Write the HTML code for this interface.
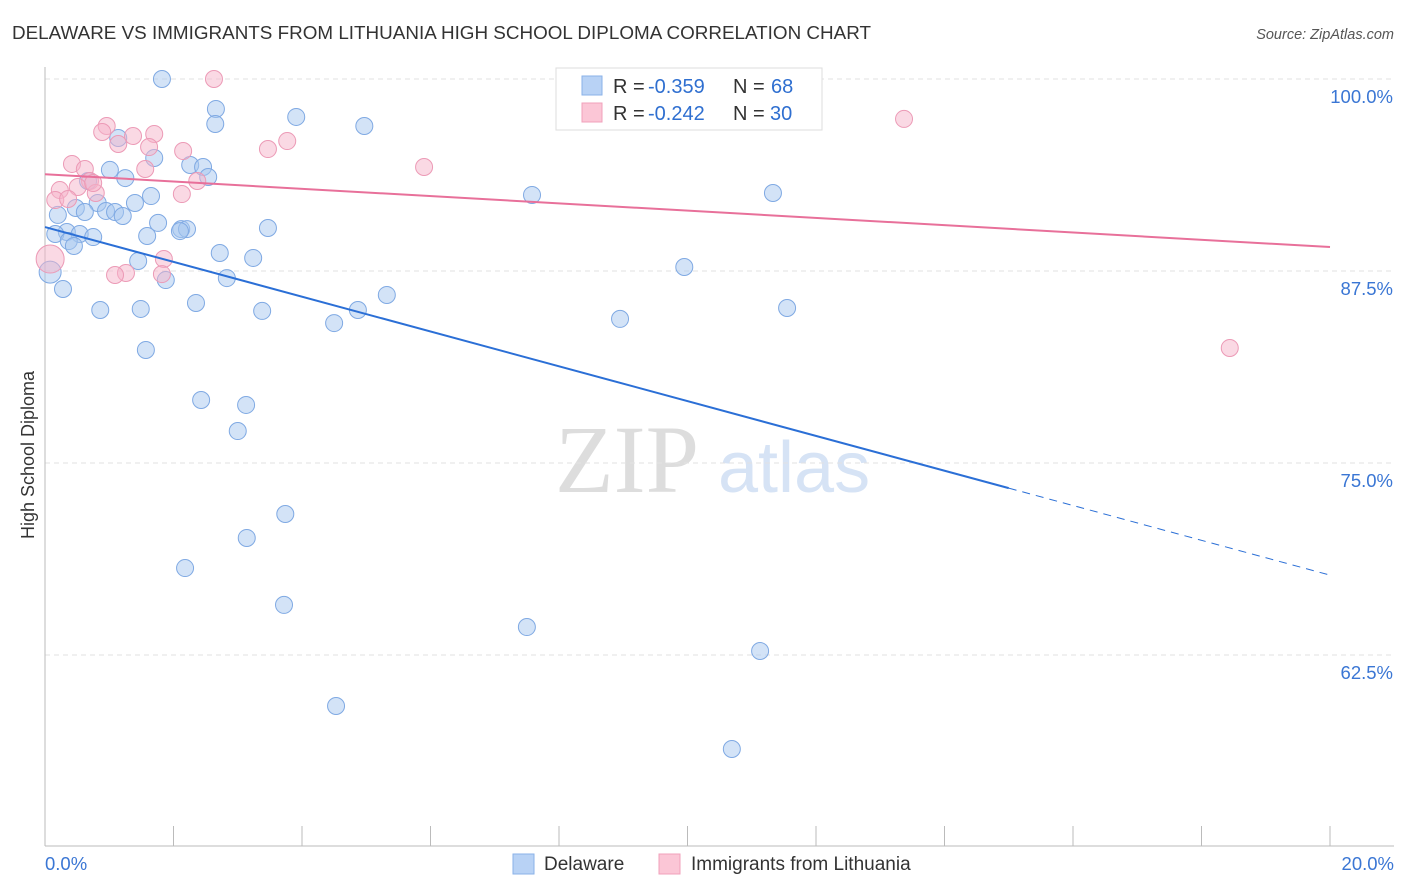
<!DOCTYPE html>
<html><head><meta charset="utf-8"><style>
body{margin:0;background:#fff;font-family:"Liberation Sans",sans-serif}
svg{display:block}
</style></head><body>
<svg id="chart" width="1406" height="892">
<text x="12" y="39" font-size="18" fill="#333" textLength="859" lengthAdjust="spacingAndGlyphs">DELAWARE VS IMMIGRANTS FROM LITHUANIA HIGH SCHOOL DIPLOMA CORRELATION CHART</text>
<text x="1394" y="39" font-size="14.5" fill="#555" font-style="italic" text-anchor="end">Source: ZipAtlas.com</text>
<text transform="translate(34,455) rotate(-90)" font-size="18" fill="#333" text-anchor="middle">High School Diploma</text>
<text x="555" y="492" font-size="96" fill="#ddd" font-family="Liberation Serif,serif">ZIP</text>
<text x="718" y="492" font-size="72" fill="#d6e3f5">atlas</text>
<g id="grid"></g><g id="pts"></g><g id="lines"></g>
<g>
<rect x="556" y="68" width="266" height="62" fill="#fff" stroke="#ddd"/>
<rect x="582" y="76" width="20" height="19" fill="#b8d2f5" stroke="#8ab2e8"/>
<rect x="582" y="103" width="20" height="19" fill="#fbc6d6" stroke="#f0a0bb"/>
<text x="613" y="93" font-size="20" fill="#333">R =</text>
<text x="648" y="93" font-size="20" fill="#2f6fd0">-0.359</text>
<text x="733" y="93" font-size="20" fill="#333">N =</text>
<text x="771" y="93" font-size="20" fill="#2f6fd0">68</text>
<text x="613" y="120" font-size="20" fill="#333">R =</text>
<text x="648" y="120" font-size="20" fill="#2f6fd0">-0.242</text>
<text x="733" y="120" font-size="20" fill="#333">N =</text>
<text x="770" y="120" font-size="20" fill="#2f6fd0">30</text>
</g>
<g>
<rect x="513" y="854" width="21" height="20" fill="#b8d2f5" stroke="#8ab2e8"/>
<text x="544" y="870" font-size="19" fill="#333">Delaware</text>
<rect x="659" y="854" width="21" height="20" fill="#fbc6d6" stroke="#f0a0bb"/>
<text x="691" y="870" font-size="19" fill="#333">Immigrants from Lithuania</text>
</g>
</svg>
<script>
const yTicks=[100,87.5,75,62.5];
const yTickLabels=["100.0%","87.5%","75.0%","62.5%"];
const xTickLabels=["0.0%","20.0%"];
const blueX=[1.82,2.66,3.91,4.97,2.65,1.14,1.70,2.26,2.46,1.01,2.54,1.25,0.67,1.65,7.58,11.33,0.82,1.40,0.48,0.62,0.95,1.09,1.21,0.20,1.76,3.47,2.12,2.21,2.10,0.34,0.16,0.54,0.75,1.59,0.37,0.45,2.72,3.24,1.45,9.95,1.88,2.83,0.08,0.28,5.32,2.35,0.86,1.49,3.38,4.87,11.55,4.50,8.95,1.57,2.43,3.13,3.00,3.74,3.14,2.18,3.72,7.50,11.13,4.53,10.69,9.76];
const blueY=[100,98.05,97.53,96.94,97.07,96.16,94.86,94.40,94.27,94.08,93.62,93.55,93.36,92.38,92.45,92.58,91.93,91.93,91.60,91.34,91.41,91.34,91.08,91.15,90.63,90.30,90.23,90.23,90.10,90.04,89.91,89.91,89.71,89.78,89.45,89.13,88.67,88.35,88.15,87.76,86.91,87.04,87.43,86.33,85.94,85.42,84.96,85.03,84.90,84.96,85.09,84.11,84.38,82.36,79.10,78.78,77.08,71.68,70.12,68.16,65.76,64.32,62.76,59.18,56.38,100];
const pinkX=[2.63,13.37,0.96,0.89,1.70,1.37,1.14,1.62,2.15,3.47,3.77,0.42,0.62,1.56,5.90,0.70,0.51,2.37,0.23,0.79,2.13,0.16,0.36,1.85,1.26,1.09,1.82,18.44,0.08,0.75];
const pinkY=[100,97.40,96.94,96.55,96.42,96.29,95.77,95.57,95.31,95.44,95.96,94.47,94.14,94.14,94.27,93.36,92.97,93.36,92.77,92.58,92.51,92.12,92.19,88.28,87.37,87.24,87.30,82.49,88.28,93.23];
const blueLine=[90.36,67.7], pinkLine=[93.8,89.06];
const X=v=>45+v*64.25, Y=v=>79+(100-v)*15.36;
const NS="http://www.w3.org/2000/svg";
function mk(t,a,p){const e=document.createElementNS(NS,t);for(const k in a)e.setAttribute(k,a[k]);p.appendChild(e);return e;}
const g=document.getElementById('grid');
yTicks.forEach((v,i)=>{
 const l=mk('line',{x1:45,x2:1394,y1:Y(v),y2:Y(v),stroke:'#e2e2e2','stroke-dasharray':'5,4'},g);
 
 
 const t=mk('text',{x:1393,y:Y(v)+24,'font-size':18.5,fill:'#3a76d4','text-anchor':'end'},g);
 t.textContent=yTickLabels[i];
 
 
});
mk('line',{x1:45,x2:45,y1:67,y2:846,stroke:'#bbb'},g);
mk('line',{x1:45,x2:1394,y1:846,y2:846,stroke:'#bbb'},g);
for(let i=0;i<=10;i++){const x=X(i*2);mk('line',{x1:x,x2:x,y1:826,y2:846,stroke:'#bbb'},g);}
[[0,'start'],[20,'end']].forEach((d,i)=>{
 const t=mk('text',{x:i?1394:45,y:870,'font-size':18.5,fill:'#3a76d4','text-anchor':d[1]},g);
 t.textContent=xTickLabels[i];
 
 
});
const p=document.getElementById('pts');
blueX.forEach((x,i)=>{
 const c=mk('circle',{cx:X(x),cy:Y(blueY[i]),r:(x<0.1?11:8.5),fill:'rgba(168,200,240,0.5)',stroke:'#7fa9e3','stroke-width':1},p);
 
 
});
pinkX.forEach((x,i)=>{
 const c=mk('circle',{cx:X(x),cy:Y(pinkY[i]),r:(x<0.1?14:8.5),fill:'rgba(245,180,202,0.5)',stroke:'#ec9ab6','stroke-width':1},p);
 
 
});
const L=document.getElementById('lines');
const bAt=v=>blueLine[0]+(blueLine[1]-blueLine[0])*v/20;
const b1=mk('line',{x1:X(0),y1:Y(bAt(0)),x2:X(15),y2:Y(bAt(15)),stroke:'#2b6fd6','stroke-width':2},L);


const b2=mk('line',{x1:X(15),y1:Y(bAt(15)),x2:X(20),y2:Y(bAt(20)),stroke:'#2b6fd6','stroke-width':1,'stroke-dasharray':'8,6'},L);


const pl=mk('line',{x1:X(0),y1:Y(pinkLine[0]),x2:X(20),y2:Y(pinkLine[1]),stroke:'#e8709a','stroke-width':2},L);


</script>
</body></html>
